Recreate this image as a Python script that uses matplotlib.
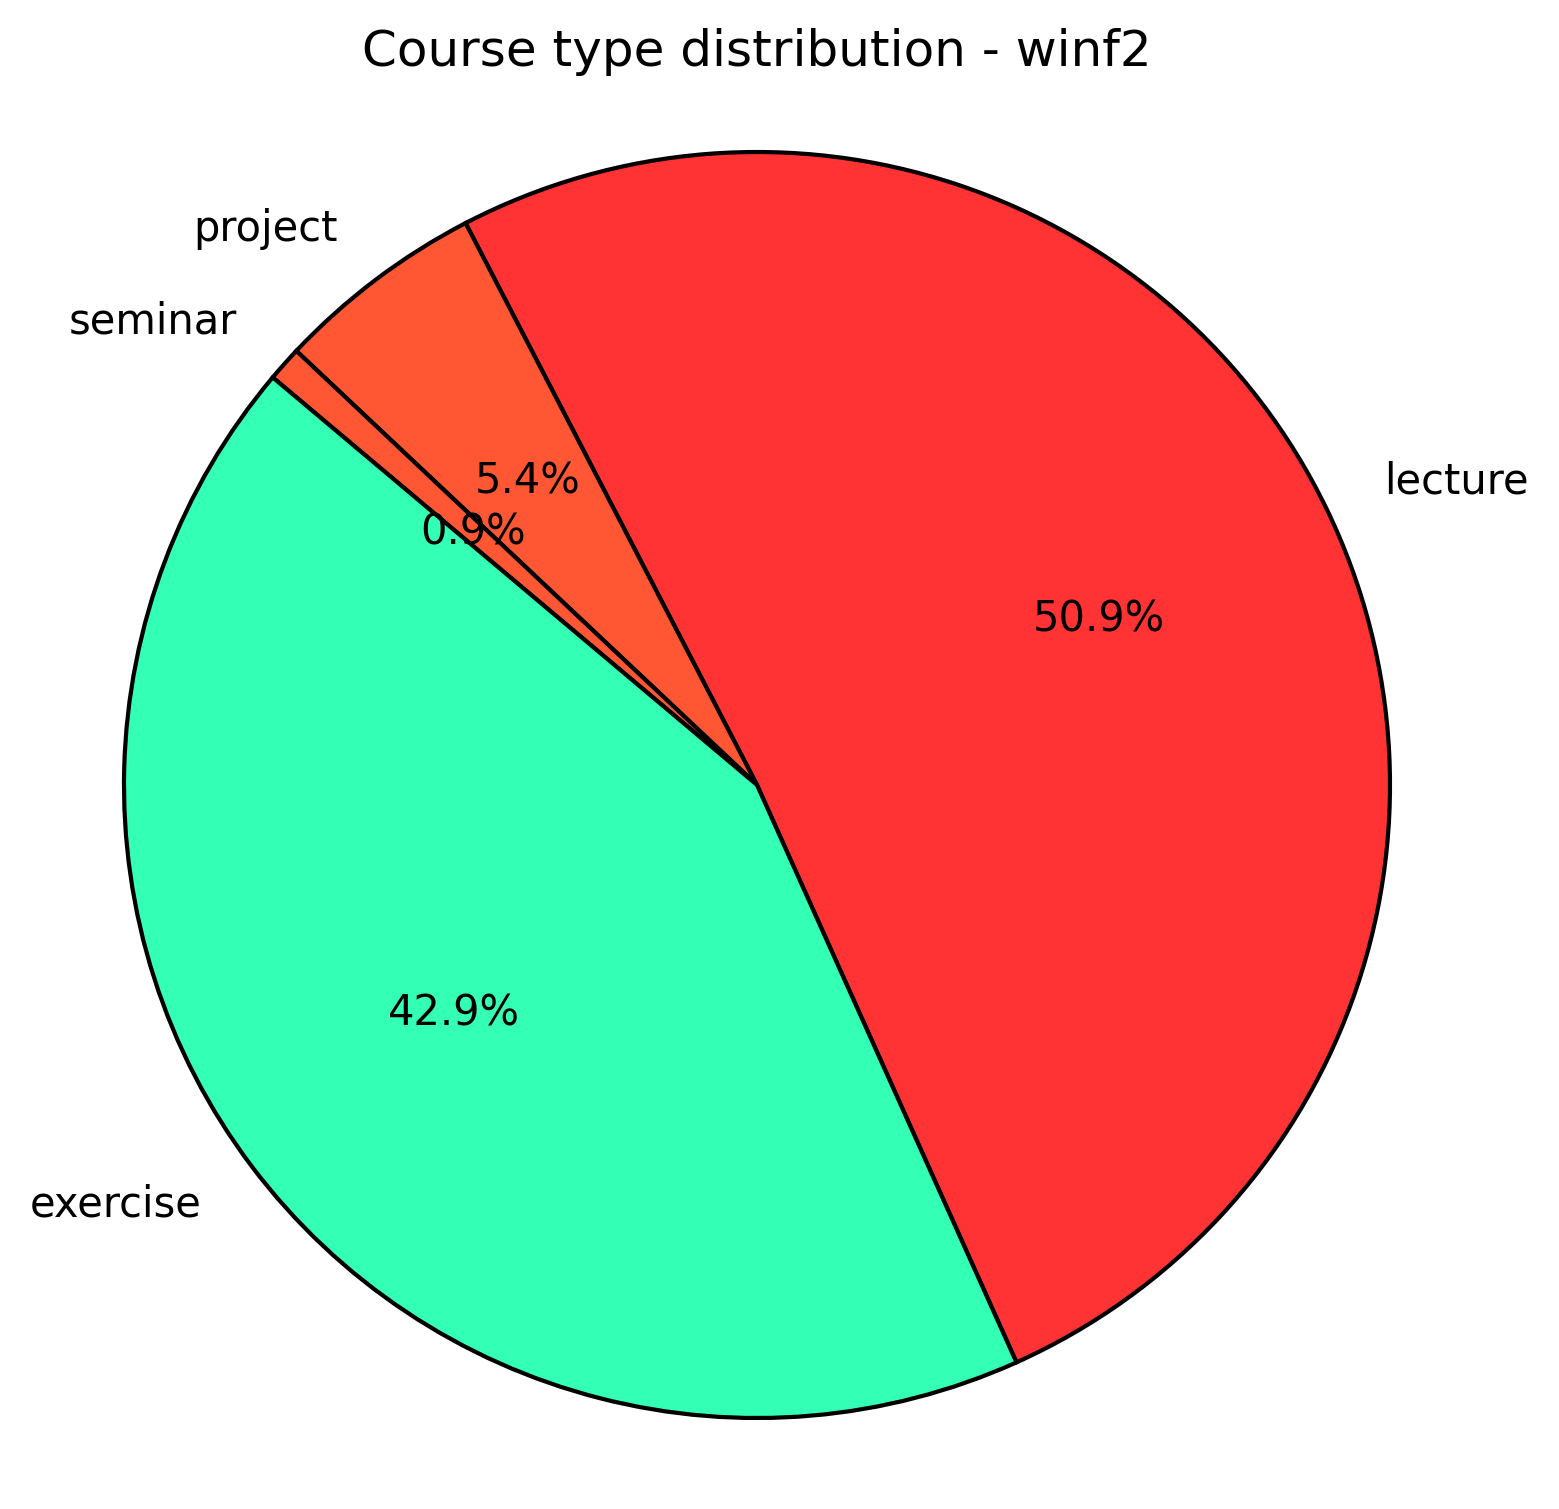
import matplotlib
matplotlib.use("Agg")
import matplotlib.pyplot as plt

# course type counts for winf2
labels = ["lecture", "project", "seminar", "exercise"]
counts = [57, 6, 1, 48]
colors = ["#FF3333", "#FF5733", "#FF5733", "#33FFB5"]

DPI = 300
fig = plt.figure(figsize=(1559 / DPI, 1509 / DPI), dpi=DPI)
ax = fig.add_axes([-0.02197, -0.04457, 1.01507, 1.04871])

ax.pie(
    counts,
    labels=labels,
    colors=colors,
    autopct="%1.1f%%",
    startangle=-65.8,
    wedgeprops={"edgecolor": "black", "linewidth": 1},
    textprops={"fontsize": 10},
)
ax.set_aspect("equal")

fig.text(0.4853, 0.9655, "Course type distribution - winf2",
         ha="center", va="center", fontsize=12)

fig.savefig("out.png", dpi=DPI)
